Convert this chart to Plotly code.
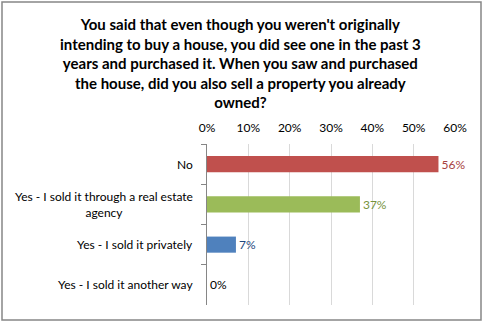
import plotly.graph_objects as go

categories = ["No", "Yes - I sold it through a real estate agency", "Yes - I sold it privately", "Yes - I sold it another way"]
display_labels = ["No", "Yes - I sold it through a real estate<br>agency", "Yes - I sold it privately", "Yes - I sold it another way"]
values = [0.56, 0.37, 0.07, 0.0]
bar_colors = ["#C0504D", "#9BBB59", "#4F81BD", "#4F81BD"]
label_colors = ["#A8413E", "#77933C", "#1F497D", "#000000"]
x_ticks = [0, 0.1, 0.2, 0.3, 0.4, 0.5, 0.6]

W, H = 487, 328
L, R, T, B = 207, 32, 144, 23
pw, ph = W - L - R, H - T - B
FONT = "Lato, Calibri, sans-serif"

fig = go.Figure(go.Bar(
    x=values, y=categories, orientation="h",
    marker=dict(color=bar_colors, line=dict(width=0)),
    text=[f"{round(v*100)}%" for v in values],
    textposition="outside", cliponaxis=False,
    textfont=dict(color=label_colors, size=12, family=FONT),
    width=0.4,
))

def px_x(p):
    return (p - L) / pw

def px_y(p):
    return 1 - (p - T) / ph

title_text = ("You said that even though you weren't originally<br>intending to buy a house, you did see one in the past 3<br>"
              "years and purchased it. When you saw and purchased<br>the house, did you also sell a property you already<br>owned?")

annotations = []
for c, lab in zip(categories, display_labels):
    annotations.append(dict(x=px_x(195), xref="paper", y=c, yref="y", text=lab,
                            showarrow=False, xanchor="right", align="center",
                            font=dict(size=12, family=FONT, color="#000000")))
annotations.append(dict(x=px_x(240), xref="paper", y=px_y(13), yref="paper", yanchor="top",
                        text="<b>" + title_text + "</b>",
                        showarrow=False, xanchor="center", align="center",
                        font=dict(size=15, family=FONT, color="#000000")))

fig.update_layout(
    width=W, height=H, margin=dict(l=L, r=R, t=T, b=B),
    paper_bgcolor="white", plot_bgcolor="white",
    showlegend=False,
    annotations=annotations,
    font=dict(family=FONT),
    shapes=[dict(type="rect", xref="paper", yref="paper",
                 x0=px_x(2), x1=px_x(481), y0=px_y(2), y1=px_y(320),
                 line=dict(color="#868686", width=1.5))],
    xaxis=dict(side="top", range=[0, 0.6], tickvals=x_ticks, tickformat=".0%",
               showgrid=True, gridcolor="#D9D9D9", gridwidth=1, zeroline=False,
               showline=False, ticks="", ticklabelstandoff=9,
               tickfont=dict(size=12, family=FONT, color="#000000")),
    yaxis=dict(autorange="reversed", showticklabels=False, showline=True, linecolor="#868686",
               linewidth=1, ticks="outside", tickson="boundaries", ticklen=5, tickcolor="#868686",
               showgrid=False),
)
fig.write_html("out.html")
